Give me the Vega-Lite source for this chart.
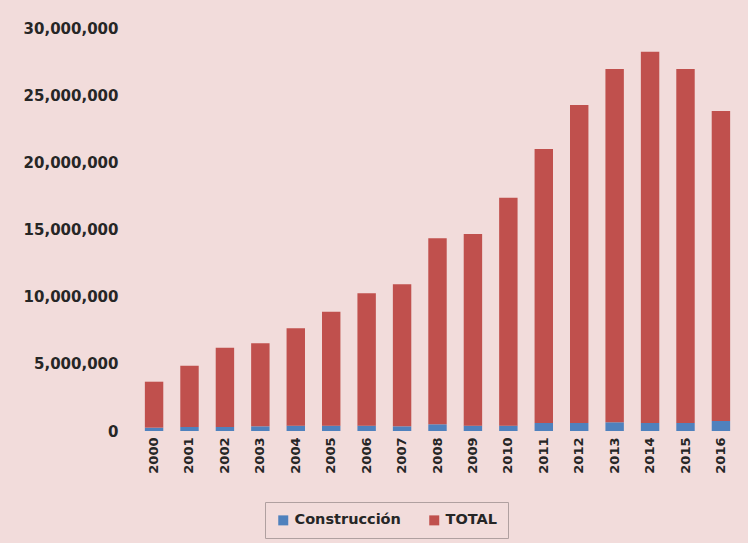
{
  "$schema": "https://vega.github.io/schema/vega-lite/v6.json",
  "autosize": {"type": "none"},
  "width": 603,
  "height": 403,
  "padding": {"left": 136, "top": 28, "right": 9, "bottom": 112},
  "background": "#f2dcdb",
  "config": {
    "view": {"stroke": null},
    "font": "DejaVu Sans"
  },
  "data": {
    "values": [
      {"year": "2000", "serie": "Construcción", "valor": 250000},
      {"year": "2001", "serie": "Construcción", "valor": 300000},
      {"year": "2002", "serie": "Construcción", "valor": 300000},
      {"year": "2003", "serie": "Construcción", "valor": 350000},
      {"year": "2004", "serie": "Construcción", "valor": 400000},
      {"year": "2005", "serie": "Construcción", "valor": 400000},
      {"year": "2006", "serie": "Construcción", "valor": 400000},
      {"year": "2007", "serie": "Construcción", "valor": 350000},
      {"year": "2008", "serie": "Construcción", "valor": 500000},
      {"year": "2009", "serie": "Construcción", "valor": 400000},
      {"year": "2010", "serie": "Construcción", "valor": 400000},
      {"year": "2011", "serie": "Construcción", "valor": 600000},
      {"year": "2012", "serie": "Construcción", "valor": 600000},
      {"year": "2013", "serie": "Construcción", "valor": 650000},
      {"year": "2014", "serie": "Construcción", "valor": 600000},
      {"year": "2015", "serie": "Construcción", "valor": 600000},
      {"year": "2016", "serie": "Construcción", "valor": 750000},
      {"year": "2000", "serie": "TOTAL", "valor": 3420000},
      {"year": "2001", "serie": "TOTAL", "valor": 4560000},
      {"year": "2002", "serie": "TOTAL", "valor": 5900000},
      {"year": "2003", "serie": "TOTAL", "valor": 6180000},
      {"year": "2004", "serie": "TOTAL", "valor": 7250000},
      {"year": "2005", "serie": "TOTAL", "valor": 8480000},
      {"year": "2006", "serie": "TOTAL", "valor": 9850000},
      {"year": "2007", "serie": "TOTAL", "valor": 10570000},
      {"year": "2008", "serie": "TOTAL", "valor": 13850000},
      {"year": "2009", "serie": "TOTAL", "valor": 14270000},
      {"year": "2010", "serie": "TOTAL", "valor": 16970000},
      {"year": "2011", "serie": "TOTAL", "valor": 20400000},
      {"year": "2012", "serie": "TOTAL", "valor": 23670000},
      {"year": "2013", "serie": "TOTAL", "valor": 26300000},
      {"year": "2014", "serie": "TOTAL", "valor": 27640000},
      {"year": "2015", "serie": "TOTAL", "valor": 26350000},
      {"year": "2016", "serie": "TOTAL", "valor": 23080000}
    ]
  },
  "mark": {"type": "bar"},
  "encoding": {
    "x": {
      "field": "year",
      "type": "ordinal",
      "scale": {"paddingInner": 0.48, "paddingOuter": 0.25},
      "axis": {
        "title": null,
        "domain": false,
        "ticks": false,
        "labelAngle": -90,
        "labelFont": "DejaVu Sans",
        "labelFontWeight": "bold",
        "labelFontSize": 13,
        "labelColor": "#262626",
        "labelPadding": 6
      }
    },
    "y": {
      "field": "valor",
      "type": "quantitative",
      "stack": "zero",
      "scale": {"domain": [0, 30000000], "nice": false},
      "axis": {
        "title": null,
        "domain": false,
        "ticks": false,
        "grid": false,
        "values": [0, 5000000, 10000000, 15000000, 20000000, 25000000, 30000000],
        "format": ",d",
        "labelFont": "DejaVu Sans",
        "labelFontWeight": "bold",
        "labelFontSize": 15,
        "labelColor": "#262626",
        "labelPadding": 18
      }
    },
    "color": {
      "field": "serie",
      "type": "nominal",
      "scale": {"domain": ["Construcción", "TOTAL"], "range": ["#4f81bd", "#c0504d"]},
      "legend": {
        "title": null,
        "orient": "none",
        "direction": "horizontal",
        "legendX": 129,
        "legendY": 474,
        "padding": 11,
        "strokeColor": "#b0a0a0",
        "symbolType": "square",
        "symbolSize": 100,
        "symbolStrokeWidth": 0,
        "labelFont": "DejaVu Sans",
        "labelFontWeight": "bold",
        "labelFontSize": 14.5,
        "labelColor": "#262626",
        "labelOffset": 4,
        "columnPadding": 26
      }
    },
    "order": {"field": "serie", "sort": "ascending"}
  }
}
